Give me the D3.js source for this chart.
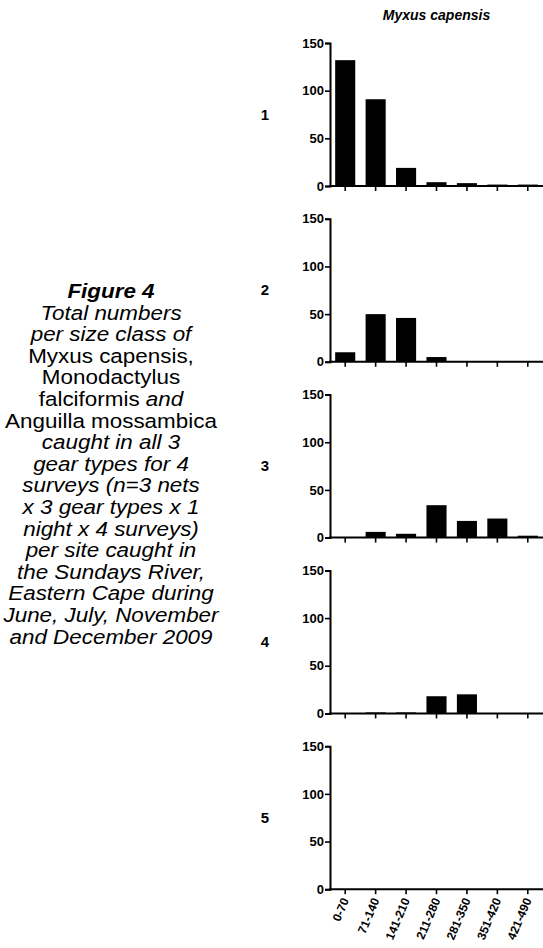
<!DOCTYPE html>
<html>
<head>
<meta charset="utf-8">
<script src="https://cdn.jsdelivr.net/npm/d3@7"></script>
<style>
  body { margin: 0; background: #fff; }
  svg { display: block; font-family: "Liberation Sans", Arial, sans-serif; }
</style>
</head>
<body>
<div id="chart"></div>
<script>
// size classes (mm)
var sizeClasses = ["0-70", "71-140", "141-210", "211-280", "281-350", "351-420", "421-490"];
var sites = ["1", "2", "3", "4", "5"];
var yTicks = [0, 50, 100, 150];

// total numbers per size class, one array per site
var site1 = [132, 91, 19, 4, 3, 1.5, 1.5];
var site2 = [10, 50, 46, 5, 0, 0, 0];
var site3 = [0, 6, 4, 34, 17.5, 20, 2];
var site4 = [0, 1, 1, 18, 20, 0, 0];
var site5 = [0, 0, 0, 0, 0, 0, 0];
var siteValues = [site1, site2, site3, site4, site5];

var species = "Myxus capensis";

// caption lines: [text, style] pieces
var captionLines = [
  [["Figure 4", "bi"]],
  [["Total numbers", "i"]],
  [["per size class of", "i"]],
  [["Myxus capensis,", "n"]],
  [["Monodactylus", "n"]],
  [["falciformis ", "n"], ["and", "i"]],
  [["Anguilla mossambica", "n"]],
  [["caught in all 3", "i"]],
  [["gear types for 4", "i"]],
  [["surveys (n=3 nets", "i"]],
  [["x 3 gear types x 1", "i"]],
  [["night x 4 surveys)", "i"]],
  [["per site caught in", "i"]],
  [["the Sundays River,", "i"]],
  [["Eastern Cape during", "i"]],
  [["June, July, November", "i"]],
  [["and December 2009", "i"]]
];

var W = 543, H = 948;
var svg = d3.select("#chart").append("svg")
  .attr("width", W)
  .attr("height", H);

var plotLeft = 330, plotRight = 543;
var panelTop = 43, panelStep = 175.8, panelH = 143;

var x = d3.scaleBand()
  .domain(sizeClasses)
  .range([plotLeft, plotRight])
  .paddingInner(0.34)
  .paddingOuter(0.17);

// title
svg.append("text")
  .attr("x", (plotLeft + plotRight) / 2)
  .attr("y", 20)
  .attr("text-anchor", "middle")
  .style("font-size", "14px")
  .style("font-weight", "bold")
  .style("font-style", "italic")
  .text(species);

siteValues.forEach(function(vals, i) {
  var top = panelTop + i * panelStep;
  var y = d3.scaleLinear()
    .domain([0, 150])
    .range([top + panelH, top]);

  var g = svg.append("g");

  // bars
  g.selectAll("rect")
    .data(vals)
    .enter()
    .append("rect")
      .attr("x", function(d, j) { return x(sizeClasses[j]); })
      .attr("width", x.bandwidth())
      .attr("y", function(d) { return y(d); })
      .attr("height", function(d) { return y(0) - y(d); })
      .attr("fill", "#000");

  // y axis
  var ya = g.append("g")
    .attr("transform", "translate(" + plotLeft + ",0)")
    .call(d3.axisLeft(y).tickValues(yTicks).tickSize(5).tickPadding(1));
  // x axis
  var xa = g.append("g")
    .attr("transform", "translate(0," + y(0) + ")")
    .call(d3.axisBottom(x).tickSize(5).tickSizeOuter(0));

  [ya, xa].forEach(function(a) {
    a.select(".domain").attr("stroke", "#000").attr("stroke-width", 2);
    a.selectAll(".tick line").attr("stroke", "#000").attr("stroke-width", 1.6);
    a.selectAll("text")
      .attr("fill", "#000")
      .style("font-family", "Liberation Sans, Arial, sans-serif")
      .style("font-weight", "bold")
      .style("font-size", "13px");
  });
  xa.select(".domain").attr("d", "M" + (plotLeft - 1) + ",0H" + plotRight);

  if (i < siteValues.length - 1) {
    xa.selectAll(".tick text").remove();
  } else {
    xa.selectAll(".tick text")
      .attr("text-anchor", "end")
      .attr("dy", null)
      .attr("transform", "translate(4,11) rotate(-67)")
      .attr("y", 0)
      .attr("x", 0)
      .style("font-size", "12px");
  }

  // site number
  svg.append("text")
    .attr("x", 265)
    .attr("y", top + panelH / 2 + 5)
    .attr("text-anchor", "middle")
    .style("font-size", "15px")
    .style("font-weight", "bold")
    .text(sites[i]);
});

// caption (the source text is set wide, so stretch it a little)
var cap = svg.append("g").attr("transform", "translate(111,0) scale(1.15,1)");
var lineH = 21.6, capY = 298;
captionLines.forEach(function(parts, k) {
  var t = cap.append("text")
    .attr("x", 0)
    .attr("y", capY + k * lineH)
    .attr("text-anchor", "middle")
    .style("font-size", "19.5px");
  parts.forEach(function(p) {
    t.append("tspan")
      .style("font-style", p[1] === "n" ? "normal" : "italic")
      .style("font-weight", p[1] === "bi" ? "bold" : "normal")
      .text(p[0]);
  });
});
</script>
</body>
</html>
